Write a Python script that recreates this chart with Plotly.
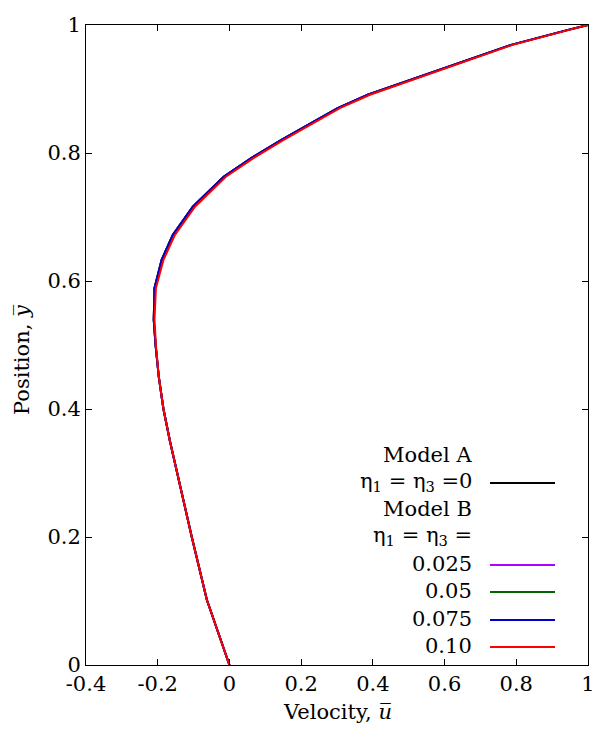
import plotly.graph_objects as go

# ---- data ----
y_pos = [0.0, 0.102, 0.2, 0.258, 0.3, 0.35, 0.4, 0.45, 0.5, 0.539, 0.589, 0.633,
         0.672, 0.716, 0.763, 0.792, 0.820, 0.845, 0.870, 0.891, 0.915,
         0.940, 0.969, 0.992, 1.0]

u_model_a = [0.0, -0.063, -0.105, -0.129, -0.146, -0.166, -0.184, -0.197, -0.206, -0.211,
             -0.209, -0.189, -0.158, -0.102, -0.016, 0.061, 0.144, 0.222, 0.302,
             0.386, 0.510, 0.636, 0.786, 0.942, 1.0]
u_b_0025 = [0.0, -0.063, -0.105, -0.129, -0.146, -0.166, -0.184, -0.197, -0.206, -0.211,
            -0.209, -0.189, -0.158, -0.102, -0.016, 0.061, 0.144, 0.222, 0.302,
            0.386, 0.510, 0.636, 0.786, 0.942, 1.0]
u_b_005 = [0.0, -0.063, -0.105, -0.129, -0.146, -0.166, -0.184, -0.197, -0.206, -0.211,
           -0.209, -0.189, -0.158, -0.102, -0.016, 0.061, 0.144, 0.222, 0.302,
           0.386, 0.510, 0.636, 0.786, 0.942, 1.0]
u_b_0075 = [0.0, -0.063, -0.105, -0.129, -0.146, -0.166, -0.184, -0.197, -0.206, -0.211,
            -0.209, -0.189, -0.158, -0.102, -0.016, 0.061, 0.144, 0.222, 0.302,
            0.386, 0.510, 0.636, 0.786, 0.942, 1.0]
u_b_010 = [0.0, -0.063, -0.105, -0.129, -0.146, -0.166, -0.184, -0.197, -0.205, -0.209,
           -0.205, -0.184, -0.152, -0.096, -0.010, 0.067, 0.150, 0.228, 0.308,
           0.392, 0.516, 0.641, 0.790, 0.945, 1.0]

series = [
    ("Model A, η1=η3=0", u_model_a, "#000000"),
    ("0.025", u_b_0025, "#b000ff"),
    ("0.05", u_b_005, "#006400"),
    ("0.075", u_b_0075, "#0000cc"),
    ("0.10", u_b_010, "#ff0000"),
]

x_ticks = [-0.4, -0.2, 0, 0.2, 0.4, 0.6, 0.8, 1]
x_ticktext = ["-0.4", "-0.2", "0", "0.2", "0.4", "0.6", "0.8", "1"]
y_ticks = [0, 0.2, 0.4, 0.6, 0.8, 1]
y_ticktext = ["0", "0.2", "0.4", "0.6", "0.8", "1"]

FONT = "DejaVu Serif"
FS = 21

fig = go.Figure()
for name, u, col in series:
    fig.add_trace(go.Scatter(x=u, y=y_pos, mode="lines", name=name,
                             line=dict(color=col, width=2), showlegend=False))

W, H = 595, 736
ml, mr, mt, mb = 86, 7, 25, 71
pw, ph = W - ml - mr, H - mt - mb

def px_x(p):
    return (p - ml) / pw

def px_y(p):
    return (H - mb - p) / ph

annotations = []
# axis titles
annotations.append(dict(text="Velocity, <i>u\u0305</i>", x=0.5, y=px_y(712), xref="paper", yref="paper",
                        xanchor="center", yanchor="middle", showarrow=False,
                        font=dict(family=FONT, size=FS, color="black")))
annotations.append(dict(text="Position, <i>y\u0305</i>", x=px_x(22), y=px_y(360), xref="paper", yref="paper",
                        xanchor="center", yanchor="middle", showarrow=False, textangle=-90,
                        font=dict(family=FONT, size=FS, color="black")))

# legend (manual, gnuplot style: text right-aligned, line sample to the right)
legend_rows = [
    ("Model A", None, 455),
    ("η<sub>1</sub> = η<sub>3</sub> =0", "#000000", 482),
    ("Model B", None, 509),
    ("η<sub>1</sub> = η<sub>3</sub> =", None, 536),
    ("0.025", "#b000ff", 564),
    ("0.05", "#006400", 591),
    ("0.075", "#0000cc", 619),
    ("0.10", "#ff0000", 646),
]
shapes = []
for txt, col, ypx in legend_rows:
    annotations.append(dict(text=txt, x=px_x(474), y=px_y(ypx), xref="paper", yref="paper",
                            xanchor="right", yanchor="middle", showarrow=False,
                            font=dict(family=FONT, size=FS, color="black")))
    if col:
        shapes.append(dict(type="line", xref="paper", yref="paper",
                           x0=px_x(490), x1=px_x(555), y0=px_y(ypx + 1), y1=px_y(ypx + 1),
                           line=dict(color=col, width=2)))

axis_common = dict(showline=True, linecolor="black", linewidth=1, mirror="ticks",
                   ticks="inside", ticklen=6, tickcolor="black", showgrid=False,
                   zeroline=False, tickfont=dict(family=FONT, size=FS, color="black"))

fig.update_layout(
    width=W, height=H,
    margin=dict(l=ml, r=mr, t=mt, b=mb, autoexpand=False),
    paper_bgcolor="white", plot_bgcolor="white",
    font=dict(family=FONT),
    xaxis=dict(range=[-0.4, 1], tickvals=x_ticks, ticktext=x_ticktext, **axis_common),
    yaxis=dict(range=[0, 1], tickvals=y_ticks, ticktext=y_ticktext, **axis_common),
    annotations=annotations, shapes=shapes, showlegend=False,
)

fig.write_html("out.html")
